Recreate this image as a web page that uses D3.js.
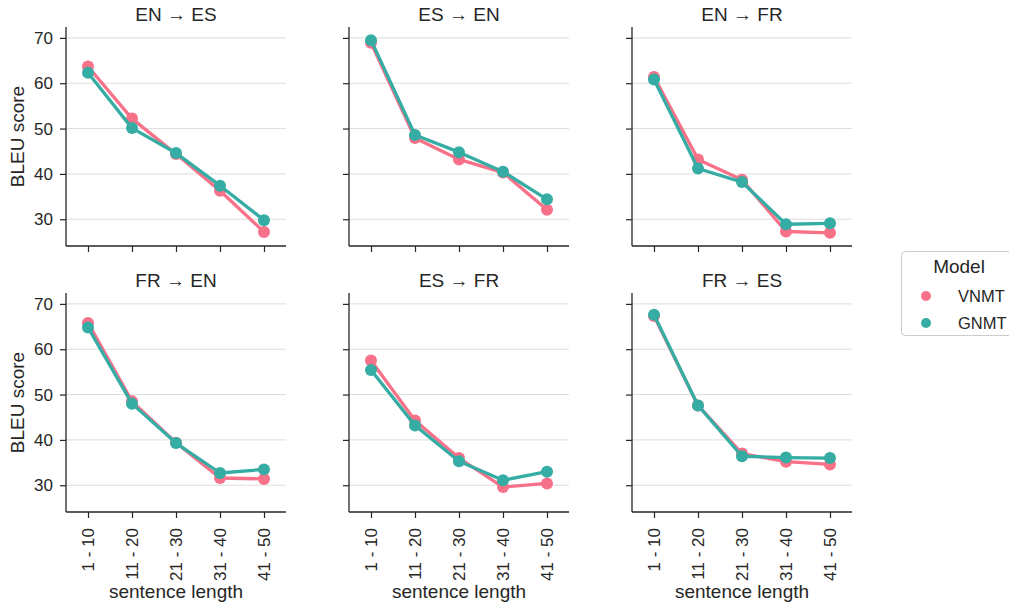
<!DOCTYPE html>
<html>
<head>
<meta charset="utf-8">
<script src="https://cdn.jsdelivr.net/npm/d3@7"></script>
<style>
  html, body { margin: 0; padding: 0; background: #fff; }
  svg { display: block; }
  text { font-family: "Liberation Sans", Arial, sans-serif; fill: #262626; }
</style>
</head>
<body>
<svg id="chart" width="1009" height="604"></svg>
<script>
// ---- data ----
const categories = ["1 - 10", "11 - 20", "21 - 30", "31 - 40", "41 - 50"];
const panels = ["EN \u2192 ES", "ES \u2192 EN", "EN \u2192 FR", "FR \u2192 EN", "ES \u2192 FR", "FR \u2192 ES"];
const models = ["VNMT", "GNMT"];
const colors = ["#f77189", "#36ada4"];
const yTicks = [30, 40, 50, 60, 70];

const vnmt = [
  [63.7, 52.2, 44.4, 36.3, 27.2],
  [68.9, 47.9, 43.2, 40.3, 32.1],
  [61.4, 43.2, 38.7, 27.3, 27.0],
  [65.8, 48.5, 39.4, 31.6, 31.4],
  [57.5, 44.3, 36.0, 29.6, 30.4],
  [67.3, 47.6, 37.0, 35.2, 34.6]
];
const gnmt = [
  [62.3, 50.1, 44.6, 37.4, 29.8],
  [69.5, 48.6, 44.8, 40.5, 34.4],
  [60.8, 41.2, 38.2, 28.9, 29.1],
  [64.8, 48.0, 39.3, 32.7, 33.5],
  [55.4, 43.2, 35.3, 31.1, 33.0],
  [67.6, 47.6, 36.4, 36.1, 36.0]
];
const series = [vnmt, gnmt];

// ---- layout ----
const svg = d3.select("#chart");
const colLeft = [66, 349, 632];
const rowTop = [27, 293];
const W = 220, H = 219;
const ink = "#262626";

const x = d3.scalePoint().domain(categories).range([0, W]).padding(0.5);
const y = d3.scaleLinear().domain([24.1, 72.4]).range([H, 0]);

panels.forEach((title, i) => {
  const col = i % 3, row = Math.floor(i / 3);
  const g = svg.append("g").attr("transform", `translate(${colLeft[col]},${rowTop[row]})`);

  // grid
  g.append("g").selectAll("line").data(yTicks).join("line")
    .attr("x1", 0).attr("x2", W)
    .attr("y1", d => y(d)).attr("y2", d => y(d))
    .attr("stroke", "#dddddd").attr("stroke-width", 1);

  // y axis
  const ya = g.append("g").call(d3.axisLeft(y).tickValues(yTicks).tickSize(6).tickPadding(7)
      .tickFormat(col === 0 ? d3.format("d") : () => ""));
  ya.select(".domain").remove();
  ya.selectAll(".tick line").attr("stroke", ink).attr("stroke-width", 1.2);
  ya.selectAll(".tick text").attr("font-size", 17).attr("fill", ink)
    .style("font-family", '"Liberation Sans", Arial, sans-serif');

  // x axis
  const xa = g.append("g").attr("transform", `translate(0,${H})`)
    .call(d3.axisBottom(x).tickSize(6).tickPadding(8).tickFormat(row === 1 ? d => d : () => ""));
  xa.select(".domain").remove();
  xa.selectAll(".tick line").attr("stroke", ink).attr("stroke-width", 1.2);
  xa.selectAll(".tick text")
    .attr("font-size", 17).attr("fill", ink)
    .style("font-family", '"Liberation Sans", Arial, sans-serif')
    .attr("transform", "rotate(-90)")
    .attr("text-anchor", "end")
    .attr("x", -16).attr("y", 0).attr("dy", "0.35em");

  // spines
  g.append("line").attr("x1", 0).attr("x2", 0).attr("y1", 0).attr("y2", H)
    .attr("stroke", ink).attr("stroke-width", 1.3);
  g.append("line").attr("x1", 0).attr("x2", W).attr("y1", H).attr("y2", H)
    .attr("stroke", ink).attr("stroke-width", 1.3);

  // series
  series.forEach((s, k) => {
    const vals = s[i].map((v, j) => ({c: categories[j], v}));
    g.append("path").datum(vals)
      .attr("fill", "none").attr("stroke", colors[k]).attr("stroke-width", 3.3)
      .attr("stroke-linejoin", "round")
      .attr("d", d3.line().x(d => x(d.c)).y(d => y(d.v)));
    g.append("g").selectAll("circle").data(vals).join("circle")
      .attr("cx", d => x(d.c)).attr("cy", d => y(d.v)).attr("r", 6)
      .attr("fill", colors[k]);
  });

  // title
  g.append("text").attr("x", W / 2).attr("y", -6).attr("text-anchor", "middle")
    .attr("font-size", 19).text(title);

  // axis labels
  if (col === 0) {
    g.append("text").attr("transform", `translate(${17 - colLeft[0]},${H / 2}) rotate(-90)`)
      .attr("text-anchor", "middle").attr("dy", "0.35em").attr("font-size", 19).text("BLEU score");
  }
  if (row === 1) {
    g.append("text").attr("x", W / 2).attr("y", 598 - rowTop[1]).attr("text-anchor", "middle")
      .attr("font-size", 19).text("sentence length");
  }
});

// legend
const lg = svg.append("g");
lg.append("rect").attr("x", 901.5).attr("y", 251.5).attr("width", 130).attr("height", 84)
  .attr("rx", 4).attr("fill", "#fff").attr("stroke", "#cccccc").attr("stroke-width", 1);
lg.append("text").attr("x", 959).attr("y", 273).attr("text-anchor", "middle")
  .attr("font-size", 19).text("Model");
models.forEach((m, k) => {
  const cy = 296 + k * 27;
  lg.append("circle").attr("cx", 926).attr("cy", cy).attr("r", 5).attr("fill", colors[k]);
  lg.append("text").attr("x", 958).attr("y", cy).attr("dy", "0.35em")
    .attr("font-size", 16.5).text(m);
});
</script>
</body>
</html>
